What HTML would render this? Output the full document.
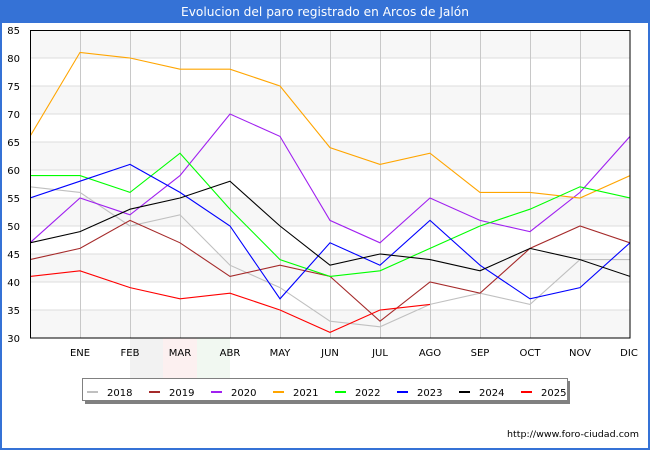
<!DOCTYPE html>
<html><head><meta charset="utf-8"><style>
html,body{margin:0;padding:0;background:#fff;}
svg{display:block;font-family:"DejaVu Sans","Liberation Sans",sans-serif;}
</style></head><body>
<svg width="650" height="450" viewBox="0 0 650 450" xmlns="http://www.w3.org/2000/svg">
<rect x="0" y="0" width="650" height="450" fill="#fff"/>
<rect x="1" y="1" width="648" height="448" fill="none" stroke="#3572d6" stroke-width="2"/>
<rect x="0" y="0" width="650" height="23" fill="#3572d6"/>
<text x="325" y="16" fill="#fff" font-size="12" text-anchor="middle" textLength="288" lengthAdjust="spacingAndGlyphs">Evolucion del paro registrado en Arcos de Jalón</text>

<!-- watermark -->
<rect x="130" y="338" width="33" height="40" fill="#f2f2f2"/>
<rect x="163" y="338" width="34" height="40" fill="#fcf0f0"/>
<rect x="197" y="338" width="33" height="40" fill="#f1f8f1"/>

<!-- plot bands -->
<g fill="#f7f7f7">
<rect x="30" y="30" width="600" height="28"/>
<rect x="30" y="86" width="600" height="28"/>
<rect x="30" y="142" width="600" height="28"/>
<rect x="30" y="198" width="600" height="28"/>
<rect x="30" y="254" width="600" height="28"/>
<rect x="30" y="310" width="600" height="28"/>
</g>
<g stroke="#dcdcdc" stroke-width="1">
<line x1="30" y1="58" x2="630" y2="58"/>
<line x1="30" y1="86" x2="630" y2="86"/>
<line x1="30" y1="114" x2="630" y2="114"/>
<line x1="30" y1="142" x2="630" y2="142"/>
<line x1="30" y1="170" x2="630" y2="170"/>
<line x1="30" y1="198" x2="630" y2="198"/>
<line x1="30" y1="226" x2="630" y2="226"/>
<line x1="30" y1="254" x2="630" y2="254"/>
<line x1="30" y1="282" x2="630" y2="282"/>
<line x1="30" y1="310" x2="630" y2="310"/>
</g>
<g stroke="#c8c8c8" stroke-width="1">
<line x1="80.5" y1="30" x2="80.5" y2="338"/>
<line x1="130.5" y1="30" x2="130.5" y2="338"/>
<line x1="180.5" y1="30" x2="180.5" y2="338"/>
<line x1="230.5" y1="30" x2="230.5" y2="338"/>
<line x1="280.5" y1="30" x2="280.5" y2="338"/>
<line x1="330.5" y1="30" x2="330.5" y2="338"/>
<line x1="380.5" y1="30" x2="380.5" y2="338"/>
<line x1="430.5" y1="30" x2="430.5" y2="338"/>
<line x1="480.5" y1="30" x2="480.5" y2="338"/>
<line x1="530.5" y1="30" x2="530.5" y2="338"/>
<line x1="580.5" y1="30" x2="580.5" y2="338"/>
</g>

<defs><clipPath id="c"><rect x="30" y="30" width="600" height="308"/></clipPath></defs>
<g fill="none" stroke-width="1.1" clip-path="url(#c)" stroke-linejoin="miter">
<polyline stroke="#c0c0c0" points="30,186.8 80,192.4 130,226 180,214.8 230,265.2 280,287.6 330,321.2 380,326.8 430,304.4 480,293.2 530,304.4 580,259.6 630,259.6"/>
<polyline stroke="#a52a2a" points="30,259.6 80,248.4 130,220.4 180,242.8 230,276.4 280,265.2 330,276.4 380,321.2 430,282 480,293.2 530,248.4 580,226 630,242.8"/>
<polyline stroke="#a020f0" points="30,242.8 80,198 130,214.8 180,175.6 230,114 280,136.4 330,220.4 380,242.8 430,198 480,220.4 530,231.6 580,192.4 630,136.4"/>
<polyline stroke="#ffa500" points="30,136.4 80,52.4 130,58 180,69.2 230,69.2 280,86 330,147.6 380,164.4 430,153.2 480,192.4 530,192.4 580,198 630,175.6"/>
<polyline stroke="#00ff00" points="30,175.6 80,175.6 130,192.4 180,153.2 230,209.2 280,259.6 330,276.4 380,270.8 430,248.4 480,226 530,209.2 580,186.8 630,198"/>
<polyline stroke="#0000ff" points="30,198 80,181.2 130,164.4 180,192.4 230,226 280,298.8 330,242.8 380,265.2 430,220.4 480,265.2 530,298.8 580,287.6 630,242.8"/>
<polyline stroke="#000000" points="30,242.8 80,231.6 130,209.2 180,198 230,181.2 280,226 330,265.2 380,254 430,259.6 480,270.8 530,248.4 580,259.6 630,276.4"/>
<polyline stroke="#ff0000" points="30,276.4 80,270.8 130,287.6 180,298.8 230,293.2 280,310 330,332.4 380,310 430,304.4"/>
</g>
<rect x="30.5" y="30.5" width="599.5" height="307.5" fill="none" stroke="#000" stroke-width="1"/>

<!-- y labels -->
<g font-size="10" fill="#000" text-anchor="end">
<text x="20" y="34">85</text>
<text x="20" y="62">80</text>
<text x="20" y="90">75</text>
<text x="20" y="118">70</text>
<text x="20" y="146">65</text>
<text x="20" y="174">60</text>
<text x="20" y="202">55</text>
<text x="20" y="230">50</text>
<text x="20" y="258">45</text>
<text x="20" y="286">40</text>
<text x="20" y="314">35</text>
<text x="20" y="342">30</text>
</g>
<!-- x labels -->
<g font-size="10" fill="#000" text-anchor="middle">
<text x="80" y="356">ENE</text>
<text x="130" y="356">FEB</text>
<text x="180" y="356">MAR</text>
<text x="230" y="356">ABR</text>
<text x="280" y="356">MAY</text>
<text x="330" y="356">JUN</text>
<text x="380" y="356">JUL</text>
<text x="430" y="356">AGO</text>
<text x="480" y="356">SEP</text>
<text x="530" y="356">OCT</text>
<text x="580" y="356">NOV</text>
<text x="629" y="356">DIC</text>
</g>

<!-- legend -->
<rect x="85" y="381" width="485" height="23" fill="#808080"/>
<rect x="82.5" y="378.5" width="485" height="22" fill="#fff" stroke="#808080" stroke-width="1"/>
<g stroke-width="2">
<line x1="87" y1="392" x2="98" y2="392" stroke="#c0c0c0"/>
<line x1="149" y1="392" x2="160" y2="392" stroke="#a52a2a"/>
<line x1="211" y1="392" x2="222" y2="392" stroke="#a020f0"/>
<line x1="273" y1="392" x2="284" y2="392" stroke="#ffa500"/>
<line x1="335" y1="392" x2="346" y2="392" stroke="#00ff00"/>
<line x1="397" y1="392" x2="408" y2="392" stroke="#0000ff"/>
<line x1="459" y1="392" x2="470" y2="392" stroke="#000000"/>
<line x1="521" y1="392" x2="532" y2="392" stroke="#ff0000"/>
</g>
<g font-size="10" fill="#000">
<text x="107" y="396">2018</text>
<text x="169" y="396">2019</text>
<text x="231" y="396">2020</text>
<text x="293" y="396">2021</text>
<text x="355" y="396">2022</text>
<text x="417" y="396">2023</text>
<text x="479" y="396">2024</text>
<text x="541" y="396">2025</text>
</g>

<text x="507" y="437" font-size="9" fill="#000" textLength="132" lengthAdjust="spacingAndGlyphs">http://www.foro-ciudad.com</text>
</svg>
</body></html>
